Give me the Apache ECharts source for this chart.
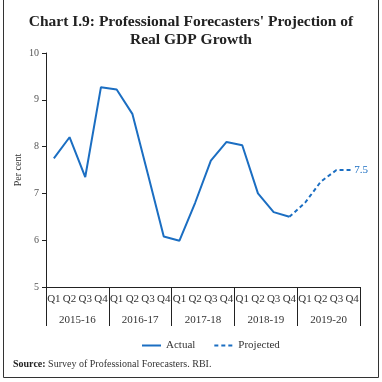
<!DOCTYPE html>
<html><head><meta charset="utf-8">
<script src="https://cdn.jsdelivr.net/npm/echarts@6/dist/echarts.min.js"></script>
<style>html,body{margin:0;padding:0;background:#fff}#c{width:382px;height:382px}</style>
</head><body><div id="c"></div>
<script>
const quarters = ['Q1','Q2','Q3','Q4','Q1','Q2','Q3','Q4','Q1','Q2','Q3','Q4','Q1','Q2','Q3','Q4','Q1','Q2','Q3','Q4'];
const years = ['2015-16','2016-17','2017-18','2018-19','2019-20'];
const actual = [7.75, 8.2, 7.35, 9.27, 9.22, 8.7, 7.4, 6.08, 5.99, 6.8, 7.7, 8.1, 8.03, 7.0, 6.6, 6.5, null, null, null, null];
const projected = [null, null, null, null, null, null, null, null, null, null, null, null, null, null, null, 6.5, 6.8, 7.25, 7.5, 7.5];
const yTicks = {min: 5, max: 10, interval: 1};

const blue = '#1b6ec2';
const serif = '"Liberation Serif", "DejaVu Serif", serif';
const chart = echarts.init(document.getElementById('c'));
chart.setOption({
  animation: false,
  backgroundColor: '#fff',
  title: {
    text: "Chart I.9: Professional Forecasters' Projection of\nReal GDP Growth",
    left: 'center', top: 8,
    textStyle: {fontFamily: serif, fontWeight: 'bold', fontSize: 15.5, lineHeight: 18, color: '#222'}
  },
  grid: {left: 46, right: 22, top: 53, bottom: 95},
  legend: {
    bottom: 26, left: 136, itemGap: 18, itemWidth: 19, itemHeight: 10,
    itemStyle: {opacity: 0},
    textStyle: {fontFamily: serif, fontSize: 11, color: '#333'},
    data: ['Actual', 'Projected']
  },
  xAxis: [{
    type: 'category', data: quarters, position: 'bottom',
    axisLine: {lineStyle: {color: '#222', width: 1}},
    axisTick: {inside: true, length: 3, lineStyle: {color: '#222'}},
    axisLabel: {fontFamily: serif, fontSize: 11, color: '#333', margin: 7, interval: 0}
  }, {
    type: 'category', data: years, position: 'bottom',
    axisLine: {show: true, lineStyle: {color: '#222', width: 1}},
    axisTick: {show: true, length: 39, interval: 0, lineStyle: {color: '#222'}},
    axisLabel: {fontFamily: serif, fontSize: 11, color: '#333', margin: 28, interval: 0}
  }],
  yAxis: {
    type: 'value', min: yTicks.min, max: yTicks.max, interval: yTicks.interval,
    axisLine: {show: true, lineStyle: {color: '#222'}},
    axisTick: {show: true, length: 4, lineStyle: {color: '#222'}},
    splitLine: {show: false},
    axisLabel: {fontFamily: serif, fontSize: 10, color: '#555', margin: 7}
  },
  series: [{
    name: 'Actual', type: 'line', data: actual, symbol: 'none',
    lineStyle: {color: blue, width: 2}, itemStyle: {color: blue}
  }, {
    name: 'Projected', type: 'line', data: projected, symbol: 'none',
    lineStyle: {color: blue, width: 2, type: [4, 3]}, itemStyle: {color: blue},
    endLabel: {show: true, formatter: '{c}', color: blue, fontFamily: serif, fontSize: 11, distance: 2}
  }],
  graphic: [{
    type: 'rect', shape: {x: 3.5, y: -2, width: 375, height: 379.5},
    style: {fill: 'none', stroke: '#333', lineWidth: 1}
  }, {
    type: 'text', x: 18, y: 170, rotation: Math.PI / 2,
    style: {text: 'Per cent', fontFamily: serif, fontSize: 10, fill: '#333', align: 'center', verticalAlign: 'middle'}
  }, {
    type: 'text', left: 13, top: 359,
    style: {
      text: '{b|Source:} Survey of Professional Forecasters. RBI.',
      rich: {b: {fontWeight: 'bold', fontFamily: serif, fontSize: 10, fill: '#222'}},
      fontFamily: serif, fontSize: 10, fill: '#333'
    }
  }]
});
</script></body></html>
